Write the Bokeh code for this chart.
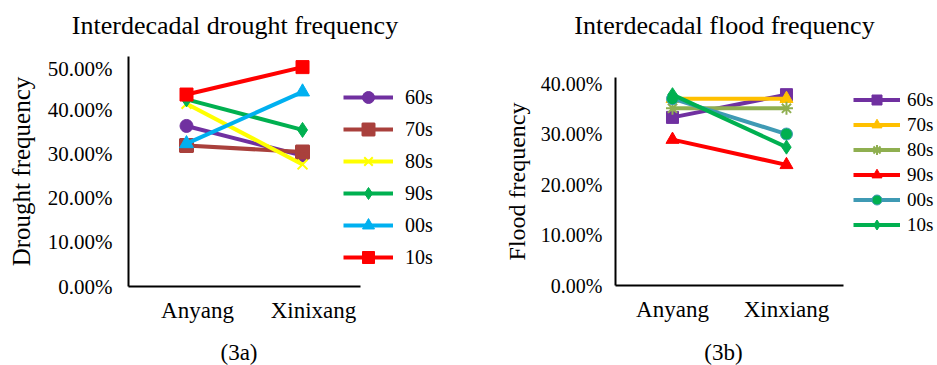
from bokeh.plotting import figure
from bokeh.models import (Range1d, FixedTicker, PrintfTickFormatter,
                          Legend, LegendItem, Div)
from bokeh.layouts import row, column
from bokeh.embed import file_html
from bokeh.resources import INLINE

FONT = "Liberation Serif"

# ---- data (percent) ----
stations_a = ["Anyang", "Xinixang"]
stations_b = ["Anyang", "Xinxiang"]
decades = ["60s", "70s", "80s", "90s", "00s", "10s"]

drought_60s = [36.3, 29.6]
drought_70s = [31.9, 30.4]
drought_80s = [41.3, 27.6]
drought_90s = [42.3, 35.4]
drought_00s = [32.3, 44.0]
drought_10s = [43.4, 49.6]

flood_60s = [33.3, 37.8]
flood_70s = [37.0, 37.0]
flood_80s = [35.1, 35.1]
flood_90s = [28.9, 23.9]
flood_00s = [37.0, 30.0]
flood_10s = [37.8, 27.4]

ticks_a = [0, 10, 20, 30, 40, 50]
ticks_b = [0, 10, 20, 30, 40]

drought_series = [drought_60s, drought_70s, drought_80s, drought_90s, drought_00s, drought_10s]
flood_series = [flood_60s, flood_70s, flood_80s, flood_90s, flood_00s, flood_10s]

style_a = [
    dict(color="#7030A0", fill="#7030A0", marker="circle", size=13),
    dict(color="#A9403C", fill="#A9403C", marker="square_x", size=13),
    dict(color="#FFFF00", fill="#FFFF00", marker="x", size=14),
    dict(color="#00B050", fill="#00B050", marker="diamond", size=15),
    dict(color="#00B0F0", fill="#00B0F0", marker="triangle", size=14),
    dict(color="#FF0000", fill="#FF0000", marker="square", size=13),
]
style_b = [
    dict(color="#7030A0", fill="#7030A0", marker="square", size=12),
    dict(color="#FFC000", fill="#FFC000", marker="triangle", size=13),
    dict(color="#8FAF50", fill="#8FAF50", marker="asterisk", size=13),
    dict(color="#FF0000", fill="#FF0000", marker="triangle", size=13),
    dict(color="#3F9AB4", fill="#00B050", marker="circle", size=12),
    dict(color="#00B050", fill="#00B050", marker="diamond", size=14),
]


def text_strip(width, height, text, shift, line_h, top, size):
    """A plain text line above/below a panel (HTML, centred, shifted by `shift` px)."""
    html = ('<div style="display:block;position:relative;'
            f'left:{shift}px;top:{top}px;width:{width}px;height:{line_h}px;'
            f'line-height:{line_h}px;text-align:center;white-space:nowrap;'
            f'font-family:\'{FONT}\';font-size:{size};color:black;">{text}</div>')
    return Div(text=html, width=width, height=height, margin=0)


def make_panel(stations, series, styles, ymax, ticks, ylabel,
               width, height, left, top, bottom, xmax, xbound, label_shift,
               leg_loc, glyph_h, glyph_w, spacing, standoff,
               tick_fs, tick_standoff, ylab_fs, ylab_standoff, leg_fs):
    xs = [i + 0.5 for i in range(len(stations))]
    p = figure(x_range=Range1d(0, xmax), y_range=Range1d(0, ymax),
               width=width, height=height,
               min_border_left=left, min_border_right=0,
               min_border_top=top, min_border_bottom=bottom,
               output_backend="svg", toolbar_location=None)
    p.outline_line_color = None
    p.grid.grid_line_color = None
    p.background_fill_color = "white"
    p.border_fill_color = "white"

    for ax in (p.xaxis[0], p.yaxis[0]):
        ax.axis_line_color = "black"
        ax.axis_line_width = 2
        ax.major_tick_line_color = None
        ax.minor_tick_line_color = None
        ax.major_label_text_font = FONT
        ax.major_label_text_color = "black"
        ax.axis_label_text_font = FONT
        ax.axis_label_text_font_style = "normal"
        ax.axis_label_text_color = "black"

    label_pos = [x + label_shift for x in xs]
    p.xaxis.ticker = FixedTicker(ticks=label_pos)
    p.xaxis.major_label_overrides = {x: s for x, s in zip(label_pos, stations)}
    p.xaxis.bounds = (0, xbound)
    p.xaxis.major_label_text_font_size = "23px"
    p.xaxis.major_label_standoff = 5

    p.yaxis.ticker = FixedTicker(ticks=ticks)
    p.yaxis.formatter = PrintfTickFormatter(format="%.2f%%")
    p.yaxis.major_label_text_font_size = tick_fs
    p.yaxis.major_label_standoff = tick_standoff
    p.yaxis.axis_label = ylabel
    p.yaxis.axis_label_text_font_size = ylab_fs
    p.yaxis.axis_label_standoff = ylab_standoff

    items = []
    for name, vals, st in zip(decades, series, styles):
        lr = p.line(x=xs, y=vals, line_color=st["color"], line_width=4)
        sr = p.scatter(x=xs, y=vals, marker=st["marker"], size=st["size"],
                       fill_color=st["fill"], line_color=st["color"],
                       line_width=2 if st["marker"] in ("x", "asterisk", "square_x") else 1)
        items.append(LegendItem(label=name, renderers=[lr, sr]))

    leg = Legend(items=items, location=leg_loc, orientation="vertical")
    leg.border_line_color = None
    leg.background_fill_alpha = 0
    leg.padding = 5
    leg.margin = 0
    leg.glyph_height = glyph_h
    leg.glyph_width = glyph_w
    leg.label_height = glyph_h
    leg.spacing = spacing
    leg.label_standoff = standoff
    leg.label_text_font = FONT
    leg.label_text_font_size = leg_fs
    leg.label_text_color = "black"
    p.add_layout(leg, "center")
    return p


# panel (3a): 470 px wide; frame top 56, axis line at 286
ttl_a = text_strip(470, 56, "Interdecadal drought frequency", 0, 52, 0, "26px")
pa = make_panel(stations_a, drought_series, style_a, 52.0, ticks_a, "Drought frequency",
                470, 279, 128, 0, 49, 2.948, 2.0, 0.095,
                (215, 14), 30, 50, 2, 12,
                "21px", 10, "25px", 10, "20px")
cap_a = text_strip(470, 30, "(3a)", 4, 30, 3, "23px")

# panel (3b): 467 px wide; frame top 77, axis line at 285
ttl_b = text_strip(467, 56, "Interdecadal flood frequency", 21, 52, 0, "26px")
pb = make_panel(stations_b, flood_series, style_b, 41.2, ticks_b, "Flood frequency",
                467, 279, 145, 21, 50, 2.825, 2.0, 0.0,
                (238, 48), 25, 47, 0, 7,
                "20px", 7, "24px", 8, "19px")
cap_b = text_strip(467, 30, "(3b)", 20, 30, 3, "23px")

layout = row(column(ttl_a, pa, cap_a, spacing=0), column(ttl_b, pb, cap_b, spacing=0), spacing=0)
open("out.html", "w").write(file_html(layout, INLINE))
